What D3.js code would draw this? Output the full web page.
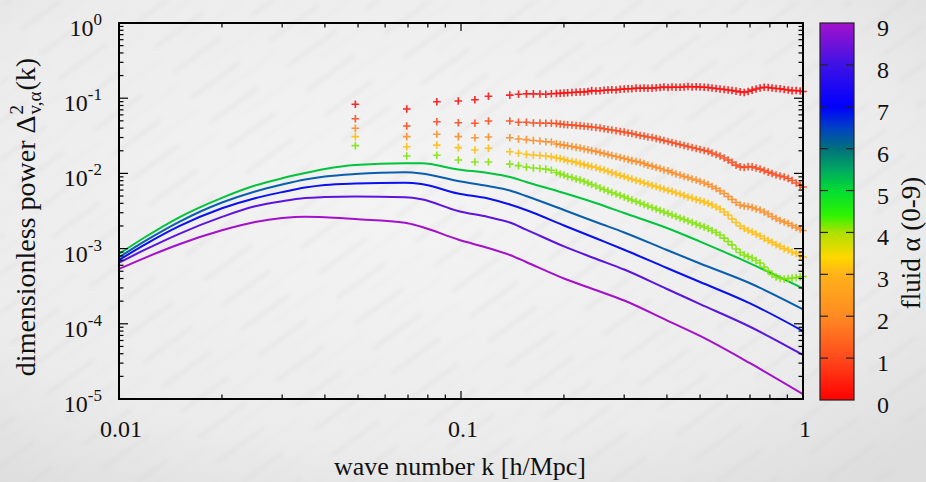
<!DOCTYPE html>
<html>
<head>
<meta charset="utf-8">
<script src="https://cdn.jsdelivr.net/npm/d3@7"></script>
<style>
  html, body { margin: 0; padding: 0; background: #ececec; }
  svg { display: block; }
  text { font-family: "Liberation Serif", "Times New Roman", serif; fill: #111; }
</style>
</head>
<body>
<div id="chart"></div>
<script>
// ---- data -------------------------------------------------------------
// linear-theory curves, fluids alpha = 5..9
const kLine = [0.01, 0.012, 0.015, 0.02, 0.025, 0.03, 0.035, 0.04, 0.049, 0.0686, 0.0766,
  0.098, 0.12, 0.139, 0.155, 0.2, 0.25, 0.3, 0.4, 0.5, 0.7, 1.0];
const powerA5 = [8.5e-4, 1.449e-3, 2.607e-3, 4.735e-3, 6.90e-3, 8.61e-3, 1.01e-2, 1.146e-2, 1.294e-2, 1.36e-2, 1.36e-2,
  1.127e-2, 1.01e-2, 8.95e-3, 7.69e-3, 5.48e-3, 3.98e-3, 2.97e-3, 1.88e-3, 1.24e-3, 6.37e-4, 2.96e-4];
const powerA6 = [7.66e-4, 1.285e-3, 2.272e-3, 4.10e-3, 5.76e-3, 7.12e-3, 8.30e-3, 9.10e-3, 9.82e-3, 1.035e-2, 1.00e-2,
  7.92e-3, 6.80e-3, 5.93e-3, 5.00e-3, 3.26e-3, 2.22e-3, 1.64e-3, 9.58e-4, 6.34e-4, 3.46e-4, 1.56e-4];
const powerA7 = [7.05e-4, 1.155e-3, 1.985e-3, 3.435e-3, 4.68e-3, 5.64e-3, 6.49e-3, 7.02e-3, 7.34e-3, 7.52e-3, 7.23e-3,
  5.41e-3, 4.64e-3, 3.86e-3, 3.26e-3, 2.03e-3, 1.35e-3, 9.66e-4, 5.52e-4, 3.60e-4, 1.87e-4, 8.02e-5];
const powerA8 = [6.49e-4, 9.82e-4, 1.573e-3, 2.639e-3, 3.65e-3, 4.27e-3, 4.71e-3, 4.85e-3, 4.93e-3, 4.81e-3, 4.53e-3,
  3.16e-3, 2.63e-3, 2.22e-3, 1.79e-3, 1.07e-3, 7.23e-4, 5.27e-4, 2.90e-4, 1.83e-4, 9.14e-5, 3.85e-5];
const powerA9 = [5.36e-4, 7.66e-4, 1.144e-3, 1.751e-3, 2.258e-3, 2.55e-3, 2.66e-3, 2.62e-3, 2.47e-3, 2.21e-3, 1.95e-3,
  1.32e-3, 1.02e-3, 8.22e-4, 6.64e-4, 4.00e-4, 2.77e-4, 2.04e-4, 1.11e-4, 6.89e-5, 2.99e-5, 1.16e-5];

// measured spectra (crosses), fluids alpha = 0..4
const kPts = [0.0491, 0.0694, 0.0850, 0.0982, 0.1098, 0.1203, 0.1389, 0.1473, 0.1553, 0.1628, 0.1701, 0.1770, 0.1837,
  0.190, 0.195, 0.200, 0.205, 0.211, 0.217, 0.223, 0.229, 0.235, 0.241, 0.248, 0.255, 0.262, 0.269, 0.276,
  0.284, 0.292, 0.300, 0.308, 0.316, 0.325, 0.334, 0.343, 0.352, 0.362, 0.372, 0.382, 0.392, 0.403, 0.414,
  0.425, 0.437, 0.449, 0.461, 0.474, 0.487, 0.500, 0.514, 0.528, 0.542, 0.557, 0.572, 0.588, 0.604, 0.620,
  0.637, 0.655, 0.673, 0.691, 0.710, 0.729, 0.749, 0.770, 0.791, 0.812, 0.834, 0.857, 0.881, 0.905, 0.929,
  0.955, 0.981, 1.000];
const pointsA0 = [0.0830, 0.0718, 0.0898, 0.0918, 0.0955, 0.106, 0.110, 0.113, 0.114, 0.114, 0.1137, 0.1127, 0.1148,
  0.1155, 0.1161, 0.1172, 0.1180, 0.1190, 0.1198, 0.1209, 0.1209, 0.1228, 0.1262, 0.1247, 0.1258, 0.1274, 0.1285,
  0.1294, 0.1285, 0.1317, 0.1325, 0.1334, 0.1337, 0.1362, 0.1355, 0.1367, 0.1359, 0.1362, 0.1380, 0.1388, 0.1409,
  0.1388, 0.1409, 0.1400, 0.1396, 0.1409, 0.1432, 0.1409, 0.1422, 0.1409, 0.1396, 0.1388, 0.1367, 0.1346, 0.1325,
  0.1304, 0.1285, 0.1266, 0.1240, 0.1215, 0.1190, 0.1228, 0.1280, 0.1325, 0.1367, 0.1400, 0.1388, 0.1367, 0.1346,
  0.1338, 0.1304, 0.1285, 0.1262, 0.1266, 0.1247, 0.1228];
const pointsA1 = [0.0534, 0.0427, 0.0487, 0.0472, 0.0464, 0.0497, 0.0497, 0.0478, 0.0478, 0.0468, 0.0468, 0.0464, 0.0464,
  0.0461, 0.0454, 0.0447, 0.0443, 0.0440, 0.0434, 0.0430, 0.0423, 0.0420, 0.0414, 0.0408, 0.0402, 0.0392, 0.0384,
  0.0378, 0.0369, 0.0361, 0.0355, 0.0344, 0.0339, 0.0329, 0.0319, 0.0314, 0.0305, 0.0300, 0.0291, 0.0282, 0.0274,
  0.0266, 0.0258, 0.0250, 0.0242, 0.0235, 0.0228, 0.0221, 0.0214, 0.0208, 0.0202, 0.0196, 0.0187, 0.0178, 0.0170,
  0.0160, 0.0151, 0.0140, 0.0129, 0.0122, 0.0120, 0.0123, 0.0122, 0.0118, 0.0114, 0.0109, 0.0104, 0.00997, 0.00952,
  0.00923, 0.00896, 0.00855, 0.00804, 0.00745, 0.00690, 0.00659];
const pointsA2 = [0.0398, 0.0308, 0.0331, 0.0308, 0.0298, 0.0305, 0.0298, 0.0287, 0.0281, 0.0274, 0.0270, 0.0264, 0.0262,
  0.0246, 0.0242, 0.0238, 0.0233, 0.0228, 0.0222, 0.0218, 0.0211, 0.0206, 0.0202, 0.0196, 0.0190, 0.0184, 0.0178,
  0.0173, 0.0168, 0.0163, 0.0158, 0.0153, 0.0148, 0.0144, 0.0140, 0.0135, 0.0129, 0.0125, 0.0120, 0.0116, 0.0111,
  0.0108, 0.0103, 0.00982, 0.00952, 0.00910, 0.00882, 0.00842, 0.00817, 0.00780, 0.00745, 0.00712, 0.00669, 0.00630,
  0.00583, 0.00540, 0.00493, 0.00450, 0.00410, 0.00380, 0.00369, 0.00363, 0.00352, 0.00336, 0.00326, 0.00307,
  0.00288, 0.00267, 0.00251, 0.00236, 0.00226, 0.00216, 0.00203, 0.00191, 0.00182, 0.00174];
const pointsA3 = [0.0308, 0.0226, 0.0238, 0.0220, 0.0205, 0.0216, 0.0194, 0.0185, 0.0179, 0.0176, 0.0173, 0.0170, 0.0167,
  0.0160, 0.0158, 0.0153, 0.0148, 0.0144, 0.0140, 0.0135, 0.0131, 0.0127, 0.0123, 0.0120, 0.0114, 0.0111, 0.0106,
  0.0103, 0.00982, 0.00938, 0.00910, 0.00868, 0.00842, 0.00804, 0.00780, 0.00745, 0.00723, 0.00690, 0.00669, 0.00639,
  0.00620, 0.00592, 0.00575, 0.00549, 0.00532, 0.00508, 0.00485, 0.00471, 0.00450, 0.00436, 0.00417, 0.00398,
  0.00380, 0.00357, 0.00336, 0.00307, 0.00280, 0.00247, 0.00222, 0.00200, 0.00185, 0.00174, 0.00166, 0.00156,
  0.00147, 0.00136, 0.00128, 0.00121, 0.00113, 0.00107, 0.00100, 0.000958, 0.000901, 0.000861, 0.000809, 0.000773];
const pointsA4 = [0.0234, 0.0170, 0.0174, 0.0151, 0.0142, 0.0142, 0.0133, 0.0127, 0.0121, 0.0118, 0.0116, 0.0114, 0.0110,
  0.0103, 0.00982, 0.00952, 0.00910, 0.00882, 0.00842, 0.00817, 0.00780, 0.00745, 0.00712, 0.00680, 0.00639, 0.00611,
  0.00583, 0.00557, 0.00532, 0.00508, 0.00485, 0.00464, 0.00443, 0.00423, 0.00404, 0.00386, 0.00369, 0.00352,
  0.00336, 0.00321, 0.00307, 0.00293, 0.00280, 0.00267, 0.00255, 0.00244, 0.00233, 0.00222, 0.00212, 0.00203,
  0.00194, 0.00185, 0.00174, 0.00164, 0.00152, 0.00138, 0.00124, 0.00112, 0.000988, 0.000887, 0.000822, 0.000785,
  0.000750, 0.000695, 0.000643, 0.000569, 0.000504, 0.000452, 0.000419, 0.000400, 0.000394, 0.000400, 0.000406,
  0.000413, 0.000419, 0.000426];

const lineSeries = [powerA5, powerA6, powerA7, powerA8, powerA9];
const lineColors = ["#00c43c", "#0a5eb0", "#0a10f0", "#5c14e0", "#a410cc"];
const pointSeries = [pointsA0, pointsA1, pointsA2, pointsA3, pointsA4];
const pointColors = ["#ff0a0a", "#ff4418", "#ff8a22", "#ffbc08", "#7de400"];

const xTicks = [0.01, 0.1, 1];
const xTickLabels = ["0.01", "0.1", "1"];
const yTicks = [1, 1e-1, 1e-2, 1e-3, 1e-4, 1e-5];
const yTickExp = ["0", "-1", "-2", "-3", "-4", "-5"];
const cbTicks = [0, 1, 2, 3, 4, 5, 6, 7, 8, 9];
const cbStops = [[0, "#ff0000"], [1, "#ff4a1c"], [2, "#ff8a22"], [3, "#ffb21a"], [3.4, "#ffd800"],
  [4, "#aee000"], [4.4, "#30f400"], [5, "#00dc34"], [5.5, "#00a862"], [6, "#00707c"],
  [6.5, "#0040c4"], [7, "#0000ff"], [8, "#3e12e6"], [9, "#a412cc"]];

// ---- layout -------------------------------------------------------------
const W = 926, H = 482;
const plot = { left: 119, right: 803, top: 23, bottom: 399 };
const cbox = { left: 820, right: 854, top: 23, bottom: 400 };

const svg = d3.select("#chart").append("svg").attr("width", W).attr("height", H);
const defs = svg.append("defs");

// paper-like backdrop
const bg = defs.append("radialGradient").attr("id", "bg").attr("cx", "45%").attr("cy", "40%").attr("r", "75%");
bg.append("stop").attr("offset", "0%").attr("stop-color", "#f4f4f4");
bg.append("stop").attr("offset", "70%").attr("stop-color", "#ececec");
bg.append("stop").attr("offset", "100%").attr("stop-color", "#dedede");
svg.append("rect").attr("width", W).attr("height", H).attr("fill", "url(#bg)");

const streak = defs.append("pattern").attr("id", "streak").attr("patternUnits", "userSpaceOnUse")
  .attr("width", 97).attr("height", 31).attr("patternTransform", "rotate(-36)");
streak.append("rect").attr("x", 0).attr("y", 4).attr("width", 60).attr("height", 3).attr("fill", "#cdcdcd").attr("opacity", 0.3);
streak.append("rect").attr("x", 30).attr("y", 18).attr("width", 67).attr("height", 1.5).attr("fill", "#d4d4d4").attr("opacity", 0.25);
const soft = defs.append("filter").attr("id", "soft");
soft.append("feGaussianBlur").attr("stdDeviation", 2);
svg.append("rect").attr("width", W).attr("height", H).attr("fill", "url(#streak)").attr("filter", "url(#soft)");

// ---- scales -------------------------------------------------------------
const x = d3.scaleLog().domain([0.01, 1]).range([plot.left, plot.right]);
const y = d3.scaleLog().domain([1e-5, 1]).range([plot.bottom, plot.top]);
const cb = d3.scaleLinear().domain([0, 9]).range([cbox.bottom, cbox.top]);

// ---- curves ----------------------------------------------------------------
const line = d3.line().x((d, i) => x(kLine[i])).y(d => y(d)).curve(d3.curveMonotoneX);
svg.append("g").selectAll("path").data(lineSeries).join("path")
  .attr("d", d => line(d))
  .attr("fill", "none")
  .attr("stroke", (d, i) => lineColors[i])
  .attr("stroke-width", 2)
  .attr("stroke-linejoin", "round");

// ---- crosses ---------------------------------------------------------------
const cross = "M-3.8,0H3.8M0,-3.8V3.8";
pointSeries.forEach((vals, s) => {
  svg.append("g").selectAll("path").data(vals).join("path")
    .attr("transform", (d, i) => `translate(${x(kPts[i])},${y(d)})`)
    .attr("d", cross)
    .attr("stroke", pointColors[s])
    .attr("stroke-width", 1.6)
    .attr("fill", "none")
    .attr("opacity", 0.88);
});

// ---- frame and ticks ---------------------------------------------------------
const ax = svg.append("g").attr("stroke", "#000");
const xMinor = x.ticks().filter(t => !xTicks.some(m => Math.abs(m - t) < 1e-9));
const yMinor = y.ticks().filter(t => !yTicks.some(m => Math.abs(m / t - 1) < 1e-6));
function vTicks(vals, len) {
  vals.forEach(t => {
    ax.append("line").attr("x1", x(t)).attr("x2", x(t)).attr("y1", plot.bottom).attr("y2", plot.bottom - len).attr("stroke-width", 1.2);
    ax.append("line").attr("x1", x(t)).attr("x2", x(t)).attr("y1", plot.top).attr("y2", plot.top + len).attr("stroke-width", 1.2);
  });
}
function hTicks(vals, len) {
  vals.forEach(t => {
    ax.append("line").attr("y1", y(t)).attr("y2", y(t)).attr("x1", plot.left).attr("x2", plot.left + len).attr("stroke-width", 1.2);
    ax.append("line").attr("y1", y(t)).attr("y2", y(t)).attr("x1", plot.right).attr("x2", plot.right - len).attr("stroke-width", 1.2);
  });
}
vTicks(xTicks, 8); vTicks(xMinor, 4.5);
hTicks(yTicks, 9); hTicks(yMinor, 4.5);
ax.append("rect").attr("x", plot.left).attr("y", plot.top)
  .attr("width", plot.right - plot.left).attr("height", plot.bottom - plot.top)
  .attr("fill", "none").attr("stroke-width", 2);

// tick labels
svg.append("g").selectAll("text").data(xTicks).join("text")
  .attr("x", d => x(d) + 2).attr("y", 437).attr("text-anchor", "middle").attr("font-size", 24)
  .text((d, i) => xTickLabels[i]);
const yl = svg.append("g").selectAll("text").data(yTicks).join("text")
  .attr("x", 102).attr("y", d => y(d) + 13).attr("text-anchor", "end").attr("font-size", 24);
yl.append("tspan").text("10");
yl.append("tspan").attr("dy", -11).attr("font-size", 17).text((d, i) => yTickExp[i]);

// axis titles
svg.append("text").attr("x", 460).attr("y", 475).attr("text-anchor", "middle").attr("font-size", 26)
  .text("wave number k [h/Mpc]");

const yTitle = svg.append("g").attr("transform", "translate(35,217) rotate(-90)");
const yInner = yTitle.append("g");
const tMain = yInner.append("text").attr("x", 0).attr("y", 0).attr("font-size", 28).text("dimensionless power \u0394");
const w1 = tMain.node().getComputedTextLength();
const tSup = yInner.append("text").attr("x", w1 + 1).attr("y", -12).attr("font-size", 19).text("2");
const tSub = yInner.append("text").attr("x", w1 + 1).attr("y", 6).attr("font-size", 19).text("v,\u03b1");
const w2 = Math.max(tSup.node().getComputedTextLength(), tSub.node().getComputedTextLength());
const tEnd = yInner.append("text").attr("x", w1 + w2 + 2).attr("y", 0).attr("font-size", 28).text("(k)");
const wTot = w1 + w2 + 2 + tEnd.node().getComputedTextLength();
yInner.attr("transform", `translate(${-wTot / 2},0)`);

// ---- colour box ----------------------------------------------------------------
const grad = defs.append("linearGradient").attr("id", "cbgrad")
  .attr("x1", 0).attr("y1", 1).attr("x2", 0).attr("y2", 0);
cbStops.forEach(s => grad.append("stop").attr("offset", s[0] / 9).attr("stop-color", s[1]));
svg.append("rect").attr("x", cbox.left).attr("y", cbox.top)
  .attr("width", cbox.right - cbox.left).attr("height", cbox.bottom - cbox.top)
  .attr("fill", "url(#cbgrad)");
const cbt = svg.append("g").attr("stroke", "#222").attr("stroke-width", 1.2);
cbTicks.filter(v => v > 0 && v < 9).forEach(v => {
  cbt.append("line").attr("x1", cbox.left).attr("x2", cbox.left + 8).attr("y1", cb(v)).attr("y2", cb(v));
  cbt.append("line").attr("x1", cbox.right).attr("x2", cbox.right - 8).attr("y1", cb(v)).attr("y2", cb(v));
});
svg.append("rect").attr("x", cbox.left).attr("y", cbox.top)
  .attr("width", cbox.right - cbox.left).attr("height", cbox.bottom - cbox.top)
  .attr("fill", "none").attr("stroke", "#222").attr("stroke-width", 1.2);
svg.append("g").selectAll("text").data(cbTicks).join("text")
  .attr("x", 883).attr("y", d => cb(d) + 13).attr("text-anchor", "middle").attr("font-size", 24)
  .text(d => d);
svg.append("text").attr("transform", "translate(920,243) rotate(-90)")
  .attr("text-anchor", "middle").attr("font-size", 27).text("fluid \u03b1 (0-9)");
</script>
</body>
</html>
